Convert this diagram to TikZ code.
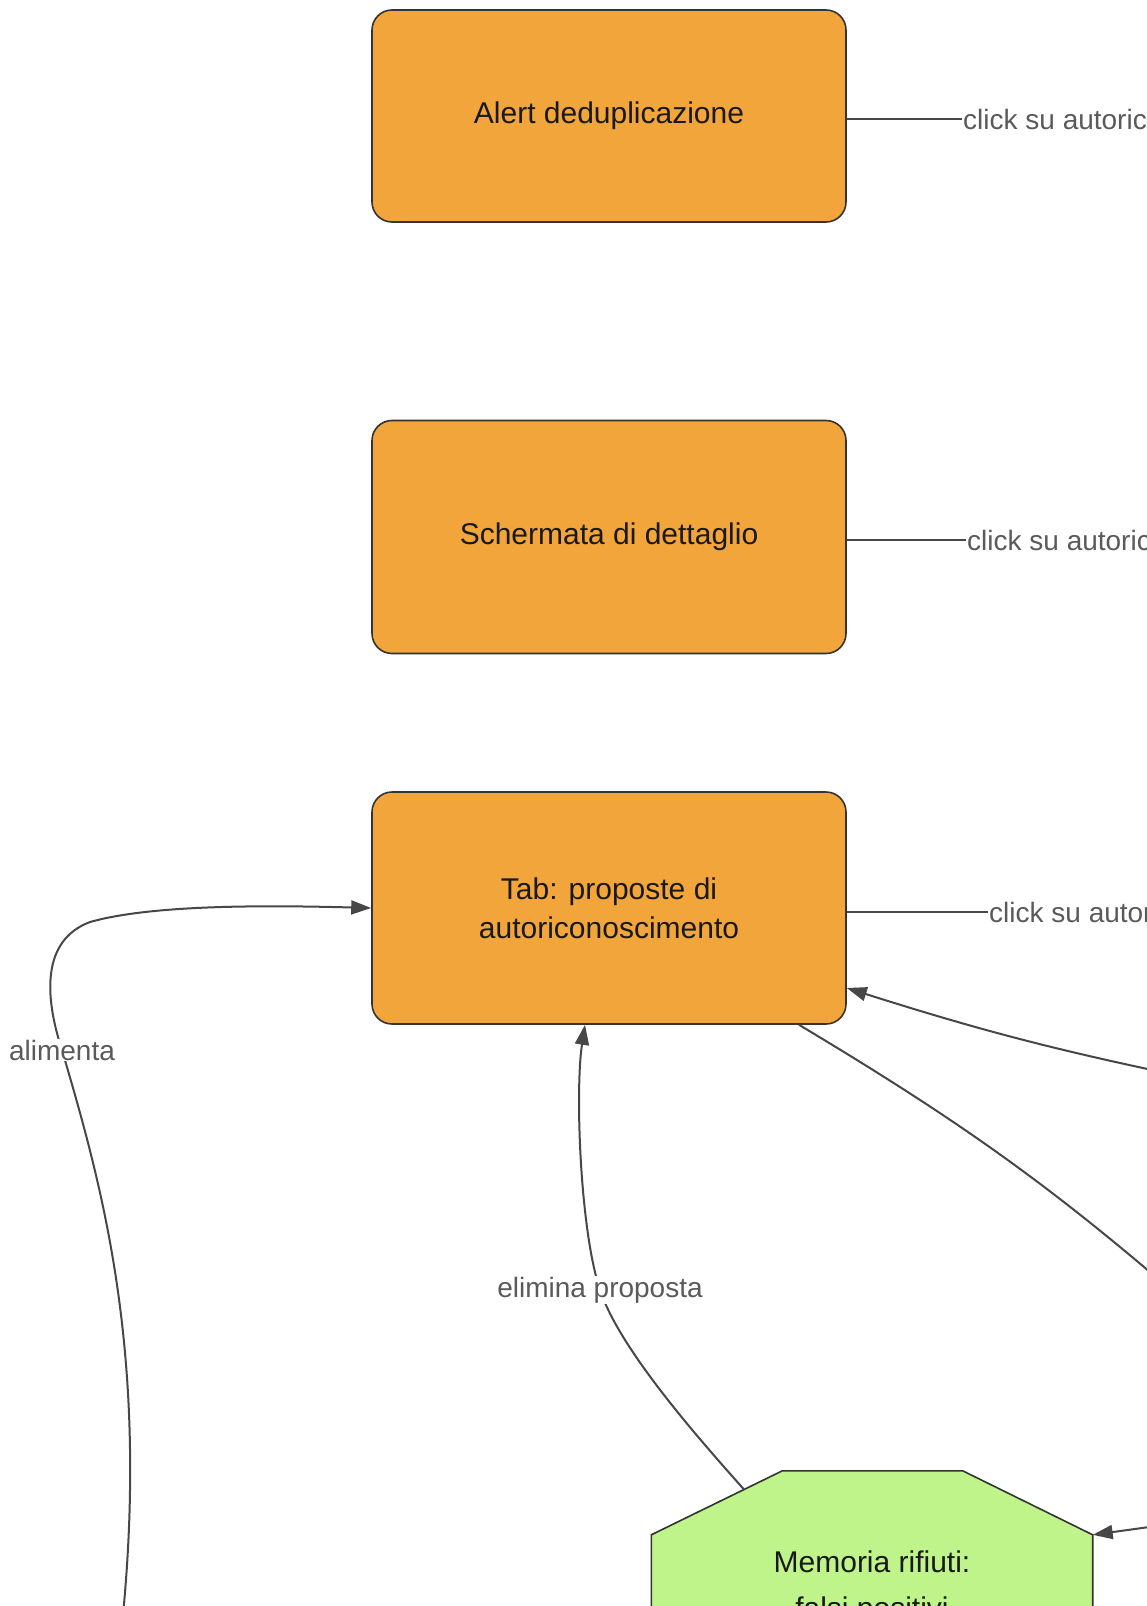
\documentclass[tikz,border=0pt]{standalone}
\usepackage{fontspec}
\setmainfont{Liberation Sans}
\usetikzlibrary{arrows.meta,calc,positioning,backgrounds}
\definecolor{boxfill}{HTML}{F2A53B}
\definecolor{octfill}{HTML}{BFF48B}
\definecolor{edge}{HTML}{333333}
\definecolor{wire}{HTML}{474747}
\definecolor{labelgray}{HTML}{5A5A5A}

\begin{document}
\begin{tikzpicture}[x=1pt,y=-1pt,
  screen/.style={draw=edge,fill=boxfill,line width=1.6pt,rounded corners=20pt,minimum width=474pt,align=center,text=black!90,font=\fontsize{30}{39}\selectfont},
  memo/.style={minimum width=441pt,minimum height=234pt,align=center,text=black!90,font=\fontsize{30}{46}\selectfont},
  conn/.style={wire,line width=2pt,-{Triangle[length=20pt,width=14pt]}},
  plain/.style={wire,line width=2pt},
  lbl/.style={labelgray,fill=white,inner sep=1pt,font=\fontsize{28}{34}\selectfont}]
\useasboundingbox (0,0) rectangle (1147,1606);
\clip (0,0) rectangle (1147,1606);

% screens
\node[screen,minimum height=212pt] (dedup) at (609,116) {\raisebox{-3pt}{Alert deduplicazione}};
\node[screen,minimum height=233pt] (detail) at (609,537) {\raisebox{-3pt}{Schermata di dettaglio}};
\node[screen,minimum height=232pt] (tab) at (609,908) {Tab: proposte di\\autoriconoscimento};

% memoria rifiuti (octagon)
\node[memo] (mem) at (872,1588) {Memoria rifiuti:\\falsi positivi};
\begin{scope}[on background layer]
\filldraw[draw=edge,fill=octfill,line width=1.6pt]
  ($(mem.north west)+(131,0)$) -- ($(mem.north east)+(-130,0)$) -- ($(mem.north east)+(0,64)$)
  -- ($(mem.south east)+(0,-64)$) -- ($(mem.south east)+(-130,0)$) -- ($(mem.south west)+(131,0)$)
  -- ($(mem.south west)+(0,-64)$) -- ($(mem.north west)+(0,64)$) -- cycle;
\end{scope}
\coordinate (memNW) at ($(mem.north west)+(93,19)$);
\coordinate (memE) at ($(mem.north east)+(0,64)$);

% ends leaving the frame
\coordinate (inR) at (1200,1080);
\coordinate (outR) at (1200,1315);
\coordinate (memIn) at (1200,1520);
\coordinate (feed) at (122,1625);

% click labels
\node[lbl,anchor=west] (clickA) at (962,119) {click su autoriconoscimento};
\node[lbl,anchor=west] (clickB) at (966,540) {click su autoriconoscimento};
\node[lbl,anchor=west] (clickC) at (988,912) {click su autoriconoscimento};
\draw[plain] (dedup.east|-clickA.west) -- (clickA.west);
\draw[plain] (detail.east|-clickB.west) -- (clickB.west);
\draw[plain] (tab.east|-clickC.west) -- (clickC.west);

% connectors
\draw[conn] (feed) .. controls (150,1350) and (100,1180) .. (62,1050) node[lbl]{alimenta}
  .. controls (44,995) and (42,940) .. (90,922) .. controls (150,905) and (260,905) .. (tab.west);
\draw[conn] (memNW) .. controls (700,1440) and (620,1350) .. (600,1290) node[lbl]{elimina proposta}
  .. controls (580,1230) and (575,1090) .. ([xshift=-24pt]tab.south);
\draw[conn] (inR) to[bend left=3] ([yshift=-80pt]tab.east);
\draw[conn] ([xshift=190pt]tab.south) to[bend left=5] (outR);
\draw[conn] (memIn) -- (memE);
\end{tikzpicture}
\end{document}
